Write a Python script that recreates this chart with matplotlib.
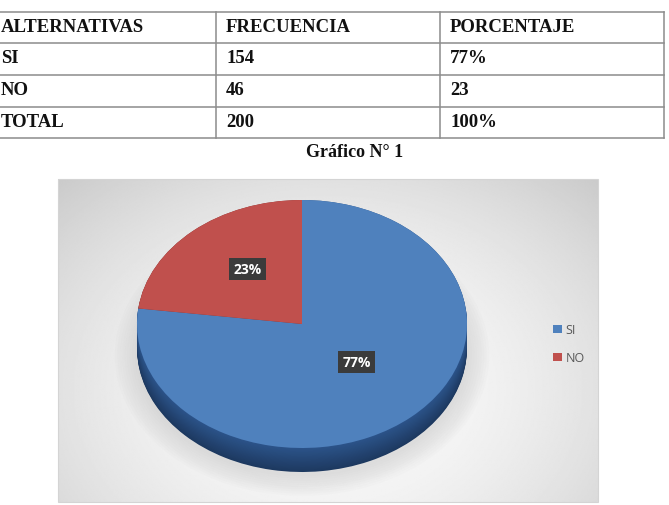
import numpy as np
import matplotlib.pyplot as plt
from matplotlib.patches import Ellipse, Rectangle

W, H = 669, 506

# tabla
columnas = ['ALTERNATIVAS', 'FRECUENCIA', 'PORCENTAJE']
alternativas = ['SI', 'NO', 'TOTAL']
frecuencia = ['154', '46', '200']
porcentaje = ['77%', '23', '100%']
titulo = 'Gráfico N° 1'

# grafico
etiquetas = ['SI', 'NO']
valores = [77, 23]
colores = ['#4f81bd', '#c0504d']

fig = plt.figure(figsize=(W / 100, H / 100), dpi=100)
fig.patch.set_facecolor('white')


def px_axes(z):
    ax = fig.add_axes([0, 0, 1, 1], zorder=z)
    ax.set_xlim(0, W)
    ax.set_ylim(H, 0)
    ax.axis('off')
    ax.patch.set_alpha(0)
    return ax


bg = px_axes(0)

# --- tabla ---
col_x = [-9, 216, 440, 664]
row_y = [13, 44, 76, 108, 139]
filas = [columnas] + [list(r) for r in zip(alternativas, frecuencia, porcentaje)]
for y in row_y:
    bg.plot([col_x[0], col_x[-1]], [y, y], color='#8c8c8c', lw=1.1)
for x in col_x:
    bg.plot([x, x], [row_y[0], row_y[-1]], color='#8c8c8c', lw=1.1)
for i, fila in enumerate(filas):
    for j, txt in enumerate(fila):
        bg.text(col_x[j] + 10, (row_y[i] + row_y[i + 1]) / 2 - 1.5, txt,
                family='Liberation Serif', weight='bold', fontsize=13.5,
                ha='left', va='center', color='#111111')

bg.text(355, 152, titulo, family='Liberation Serif', weight='bold',
        fontsize=13, ha='center', va='center', color='#111111')

# --- fondo del grafico ---
gx, gy = np.meshgrid(np.linspace(-1, 1, 400), np.linspace(-1, 1, 260))
r = np.sqrt((gx * 0.95) ** 2 + ((gy - 0.3) * 0.75) ** 2)
img = np.clip(0.985 - 0.11 * r ** 1.8, 0, 1)
bg.imshow(img, extent=[58, 598, 503, 180], cmap='gray', vmin=0, vmax=1,
          aspect='auto', interpolation='bilinear', zorder=0)
bg.add_patch(Rectangle((58, 180), 540, 323, fill=False, ec='#d4d4d4', lw=0.8))
bg.set_xlim(0, W)
bg.set_ylim(H, 0)

# --- pastel 3d ---
x0, x1, y0, y1 = 137, 467, 201, 473
ry = 124.0
prof = (y1 - y0) / ry - 2
ax = fig.add_axes([x0 / W, 1 - y1 / H, (x1 - x0) / W, (y1 - y0) / H], zorder=1)
ax.patch.set_alpha(0)

# sombra suave
for k in range(10):
    ax.add_patch(Ellipse((0.0, -0.06 - prof), 2.0 + 0.03 * k, 1.95 + 0.035 * k,
                         fc='#808080', ec='none', alpha=0.02, clip_on=False, zorder=0))

# costado
capas = 30
lado = plt.matplotlib.colors.LinearSegmentedColormap.from_list('lado', ['#1d3960', '#2c548a'])
for k in range(capas):
    d = prof * (1 - k / (capas - 1))
    c = lado(k / (capas - 1))
    ax.pie(valores, colors=[c, '#7d2f2d'], startangle=90, counterclock=False,
           center=(0, -d), wedgeprops=dict(lw=0), frame=False)

cuñas, _, textos = ax.pie(valores, colors=colores, startangle=90, counterclock=False,
                          autopct='%1.0f%%', pctdistance=0.5,
                          wedgeprops=dict(lw=0), frame=False)
for t in textos:
    x, y = t.get_position()
    t.set_position((x, y + 0.07))
    t.set_color('white')
    t.set_fontweight('bold')
    t.set_family('Open Sans')
    t.set_fontsize(10)
    t.set_bbox(dict(boxstyle='square,pad=0.3', fc='#3b3b3b', ec='none'))

ax.set_aspect('auto')
ax.set_xlim(-1, 1)
ax.set_ylim(-1 - prof, 1)
ax.axis('off')

ley = ax.legend(cuñas, etiquetas, loc='upper left',
                bbox_to_anchor=(547 / W, 1 - 318 / H), bbox_transform=fig.transFigure,
                frameon=False, handlelength=0.7, handleheight=0.7,
                handletextpad=0.3, labelspacing=1.2, borderpad=0,
                prop=dict(family='Open Sans', size=9))
for t in ley.get_texts():
    t.set_color('#595959')

fig.savefig('out.png', dpi=100, facecolor='white')
